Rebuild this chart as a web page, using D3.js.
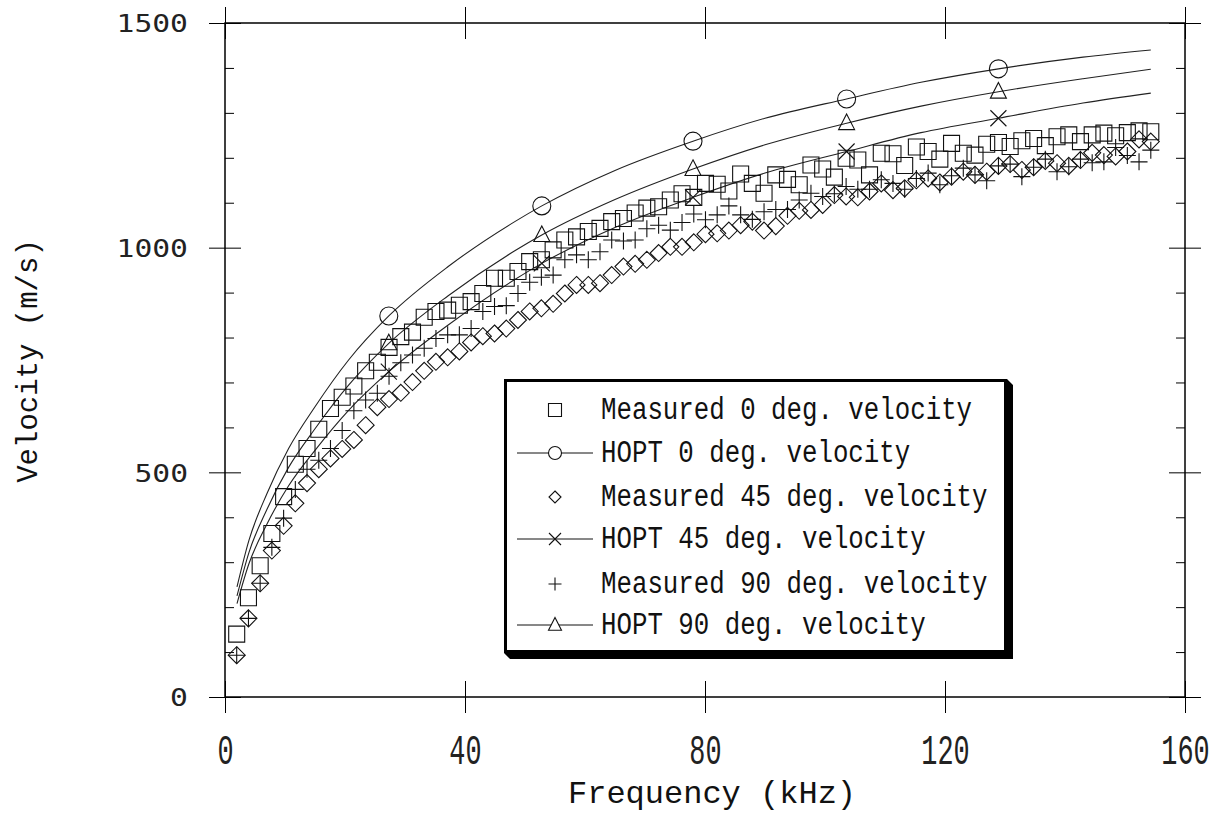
<!DOCTYPE html>
<meta charset="utf-8">
<style>
  body { margin: 0; background: #fff; }
  .frame { fill: none; stroke: #000; stroke-width: 1.5px; }
  .tick line { stroke: #000; stroke-width: 1px; }
  .domain { display: none; }
  .curve { fill: none; stroke: #222; stroke-width: 1.1px; }
  .mark { fill: none; stroke: #111; stroke-width: 1.1px; }
  .mono { font-family: "Liberation Mono", "Courier New", monospace; fill: #111; }
</style>
<body>
<script src="https://d3js.org/d3.v7.min.js"></script>
<script>

const width = 1217, height = 826;

// axis ticks
const xTicks = [0, 40, 80, 120, 160];
const yTicks = [0, 500, 1000, 1500];
const yMinor = [100, 200, 300, 400, 600, 700, 800, 900, 1100, 1200, 1300, 1400];

// measured frequencies (kHz)
const measFreq = [1.95, 3.91, 5.86, 7.81, 9.77, 11.72, 13.67, 15.63, 17.58, 19.53,
  21.48, 23.44, 25.39, 27.34, 29.3, 31.25, 33.2, 35.16, 37.11, 39.06,
  41.02, 42.97, 44.92, 46.88, 48.83, 50.78, 52.73, 54.69, 56.64, 58.59,
  60.55, 62.5, 64.45, 66.41, 68.36, 70.31, 72.27, 74.22, 76.17, 78.13,
  80.08, 82.03, 83.98, 85.94, 87.89, 89.84, 91.8, 93.75, 95.7, 97.66,
  99.61, 101.56, 103.52, 105.47, 107.42, 109.38, 111.33, 113.28, 115.23, 117.19,
  119.14, 121.09, 123.05, 125, 126.95, 128.91, 130.86, 132.81, 134.77, 136.72,
  138.67, 140.63, 142.58, 144.53, 146.48, 148.44, 150.39, 152.34, 154.3];

const meas0 = [140, 221, 292, 364, 446, 518, 553, 596, 642, 667,
  692, 726, 745, 778, 802, 812, 845, 858, 861, 872,
  880, 898, 932, 932, 947, 969, 973, 995, 1017, 1024,
  1036, 1043, 1058, 1065, 1077, 1088, 1091, 1106, 1120, 1112,
  1143, 1141, 1126, 1164, 1143, 1121, 1162, 1152, 1140, 1184,
  1175, 1157, 1199, 1195, 1162, 1210, 1209, 1183, 1224, 1214,
  1197, 1232, 1210, 1206, 1230, 1234, 1225, 1238, 1243, 1227,
  1247, 1251, 1236, 1251, 1255, 1249, 1256, 1260, 1258];

const meas45 = [93, 175, 253, 326, 381, 431, 476, 507, 531, 552,
  572, 605, 645, 663, 677, 701, 726, 746, 756, 769,
  789, 803, 809, 820, 839, 858, 865, 875, 898, 917,
  917, 921, 939, 958, 964, 973, 988, 1002, 1002, 1012,
  1030, 1032, 1038, 1050, 1058, 1038, 1048, 1071, 1082, 1084,
  1095, 1117, 1114, 1112, 1125, 1143, 1128, 1132, 1150, 1154,
  1145, 1158, 1169, 1162, 1169, 1182, 1186, 1173, 1179, 1193,
  1188, 1182, 1195, 1211, 1206, 1203, 1214, 1241, 1236];

const meas90 = [93, 175, 253, 333, 398, 462, 507, 527, 553, 593,
  637, 661, 676, 714, 744, 761, 776, 798, 806, 806,
  820, 858, 869, 871, 898, 923, 934, 939, 973, 984,
  973, 991, 1017, 1015, 1017, 1042, 1050, 1039, 1056, 1075,
  1062, 1073, 1093, 1073, 1063, 1080, 1085, 1085, 1106, 1121,
  1114, 1120, 1136, 1130, 1130, 1151, 1143, 1130, 1154, 1166,
  1140, 1160, 1177, 1162, 1149, 1182, 1186, 1158, 1179, 1197,
  1169, 1180, 1197, 1189, 1191, 1223, 1205, 1191, 1217];

// HOPT model curves
const hoptFreq = [2, 4, 7, 10.6, 15, 20.6, 27.3, 37.2, 48.3, 52.8, 65, 78, 90, 103.6, 116, 128.9, 143, 154.3];
const hopt0  = [245, 349, 453, 553, 646, 750, 848, 958, 1058, 1093, 1172, 1237, 1288, 1331, 1368, 1398, 1424, 1440];
const hopt45 = [208, 297, 385, 470, 549, 638, 724, 828, 929, 965, 1045, 1112, 1166, 1214, 1256, 1288, 1322, 1344];
const hopt90 = [225, 322, 418, 511, 597, 694, 787, 893, 993, 1028, 1107, 1175, 1229, 1277, 1315, 1347, 1376, 1397];
const hoptMarkFreq = [27.3, 52.8, 78, 103.6, 128.9];

const legendLabels = ["Measured 0 deg. velocity", "HOPT 0 deg. velocity", "Measured 45 deg. velocity",
  "HOPT 45 deg. velocity", "Measured 90 deg. velocity", "HOPT 90 deg. velocity"];
const legendSymbols = ["square", "circle", "diamond", "times", "plus", "triangle"];
const legendHasLine = [false, true, false, true, false, true];

// symbol paths, s = half size
function symPath(type, s) {
  switch (type) {
    case "square": return `M${-s},${-s}H${s}V${s}H${-s}Z`;
    case "diamond": return `M0,${-s}L${s},0L0,${s}L${-s},0Z`;
    case "plus": return `M${-s},0H${s}M0,${-s}V${s}`;
    case "times": return `M${-s},${-s}L${s},${s}M${s},${-s}L${-s},${s}`;
    case "triangle": return `M0,${-s * 1.15}L${s},${s * 0.8}H${-s}Z`;
    case "circle": return `M${s},0A${s},${s} 0 1,1 ${-s},0A${s},${s} 0 1,1 ${s},0Z`;
  }
}

const x = d3.scaleLinear().domain([0, 160]).range([225, 1185]);
const y = d3.scaleLinear().domain([0, 1500]).range([697, 23]);

const svg = d3.select('body').append('svg')
  .attr('width', width)
  .attr('height', height);

svg.append('rect').attr('class', 'frame')
  .attr('x', x(0)).attr('y', y(1500))
  .attr('width', x(160) - x(0)).attr('height', y(0) - y(1500));

// bottom axis, ticks crossing the frame
const gx = svg.append('g')
  .attr('transform', `translate(0,${y(0)})`)
  .call(d3.axisBottom(x).tickValues(xTicks).tickSize(16).tickPadding(0));
gx.selectAll('.tick line').attr('y1', -16);
gx.selectAll('.tick text')
  .attr('class', 'mono')
  .attr('dy', null)
  .attr('y', 0)
  .attr('transform', 'translate(0,67) scale(0.64,1)')
  .style('font-size', '42px')
  .style('fill', '#222');

const gxt = svg.append('g')
  .attr('transform', `translate(0,${y(1500)})`)
  .call(d3.axisTop(x).tickValues(xTicks).tickSize(16).tickFormat(''));
gxt.selectAll('.tick line').attr('y1', 16);

// left axis
const gy = svg.append('g')
  .attr('transform', `translate(${x(0)},0)`)
  .call(d3.axisLeft(y).tickValues(yTicks).tickSize(16).tickPadding(0).tickFormat(d3.format('d')));
gy.selectAll('.tick line').attr('x1', 16);
gy.selectAll('.tick text')
  .attr('x', 0)
  .attr('dy', null)
  .attr('dominant-baseline', 'central')
  .attr('transform', 'translate(-37,0) scale(1.1,0.95)')
  .style('font-family', '"DejaVu Sans Mono", monospace')
  .style('font-size', '27px')
  .style('fill', '#222');

svg.append('g')
  .attr('transform', `translate(${x(0)},0)`)
  .call(d3.axisRight(y).tickValues(yMinor).tickSize(9).tickFormat(''));

// right axis
const gyr = svg.append('g')
  .attr('transform', `translate(${x(160)},0)`)
  .call(d3.axisRight(y).tickValues(yTicks).tickSize(16).tickFormat(''));
gyr.selectAll('.tick line').attr('x1', -16);
svg.append('g')
  .attr('transform', `translate(${x(160)},0)`)
  .call(d3.axisLeft(y).tickValues(yMinor).tickSize(9).tickFormat(''));

// axis titles
svg.append('text').attr('class', 'mono')
  .attr('text-anchor', 'middle')
  .attr('transform', 'translate(712,803)')
  .style('font-size', '32px')
  .text('Frequency (kHz)');

svg.append('text').attr('class', 'mono')
  .attr('text-anchor', 'middle')
  .attr('transform', 'translate(37,361) rotate(-90)')
  .style('font-size', '29px')
  .text('Velocity (m/s)');

// HOPT curves
const line = d3.line()
  .x(d => x(d[0]))
  .y(d => y(d[1]))
  .curve(d3.curveMonotoneX);

const hopt = [
  { vals: hopt0, sym: "circle", s: 9 },
  { vals: hopt45, sym: "times", s: 8 },
  { vals: hopt90, sym: "triangle", s: 8 }
];

hopt.forEach(h => {
  const pts = hoptFreq.map((f, i) => [f, h.vals[i]]);
  svg.append('path').attr('class', 'curve').attr('d', line(pts));
  const marks = pts.filter(p => hoptMarkFreq.includes(p[0]));
  svg.append('g').selectAll('path')
    .data(marks)
    .enter().append('path')
    .attr('class', 'mark')
    .attr('transform', d => `translate(${x(d[0])},${y(d[1])})`)
    .attr('d', symPath(h.sym, h.s));
});

// measured series
const measured = [
  { vals: meas45, sym: "diamond", s: 8.5 },
  { vals: meas0, sym: "square", s: 8 },
  { vals: meas90, sym: "plus", s: 8.5 }
];

measured.forEach(m => {
  svg.append('g').selectAll('path')
    .data(measFreq.map((f, i) => [f, m.vals[i]]))
    .enter().append('path')
    .attr('class', 'mark')
    .attr('transform', d => `translate(${x(d[0])},${y(d[1])})`)
    .attr('d', symPath(m.sym, m.s));
});

// legend
const lg = svg.append('g').attr('transform', 'translate(504,379)');
lg.append('path')
  .attr('d', 'M503,0 L509,6 L509,280 L6,280 L0,274 L503,274 Z')
  .style('fill', '#000');
lg.append('rect')
  .attr('x', 1.5).attr('y', 1.5)
  .attr('width', 500).attr('height', 271)
  .style('fill', '#fff')
  .style('stroke', '#000')
  .style('stroke-width', 3);

const legendRows = [31, 74, 118, 160, 205, 246];
const legendSize = { square: 6.5, circle: 6.5, diamond: 6, times: 6, plus: 6.5, triangle: 6.5 };

legendLabels.forEach((label, i) => {
  const row = lg.append('g').attr('transform', `translate(0,${legendRows[i]})`);
  if (legendHasLine[i]) {
    row.append('line')
      .attr('x1', 13).attr('x2', 89)
      .style('stroke', '#111').style('stroke-width', 1);
  }
  row.append('path')
    .attr('class', 'mark')
    .attr('transform', 'translate(51,0)')
    .style('fill', '#fff')
    .attr('d', symPath(legendSymbols[i], legendSize[legendSymbols[i]]));
  row.append('text')
    .attr('class', 'mono')
    .attr('transform', 'translate(97,9) scale(0.955,1.15)')
    .style('font-size', '27px')
    .text(label);
});

</script>
</body>
</html>
